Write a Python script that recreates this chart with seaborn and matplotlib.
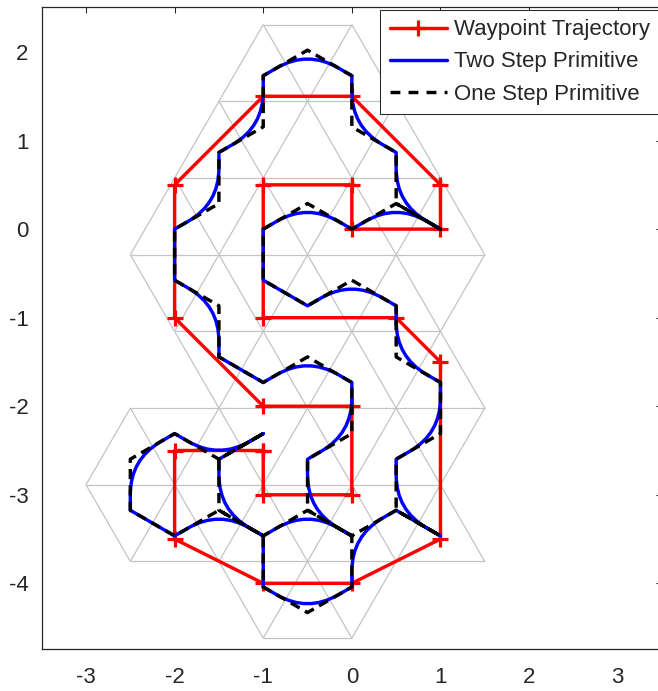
import matplotlib
matplotlib.use("Agg")
import matplotlib.pyplot as plt
import pandas as pd
import seaborn as sns
from matplotlib.path import Path
from matplotlib.patches import PathPatch
from matplotlib.collections import LineCollection
from matplotlib.lines import Line2D

# ---------------- data ----------------
# Waypoint trajectory (closed loop)
way_x = [-1, -2, -2, -1, 0, 1, 1, 0.5, -1, -1, 0, 0, 1, 1, 0, -1, -2, -2, -1, 0, 0, -1, -1]
way_y = [-2.5, -2.5, -3.5, -4, -4, -3.5, -1.5, -1, -1, 0.5, 0.5, 0, 0, 0.5, 1.5, 1.5, 0.5, -1, -2, -2, -3, -3, -2.5]

# One step primitive: vertices on the hexagonal (triangle-centroid) lattice
one_x = [-1, -1.5, -2, -2.5, -2.5, -2, -1.5, -1, -1, -0.5, 0, 0, 0.5, 1, 0.5, 0.5, 1, 1,
         0.5, 0.5, 0, -0.5, -1, -1, -0.5, 0, 0.5, 1, 0.5, 0.5, 0, 0, -0.5, -1, -1, -1.5,
         -1.5, -2, -2, -1.5, -1.5, -1, -0.5, 0, 0, -0.5, -0.5, 0, -0.5, -1, -1.5, -1.5, -1]
one_y = [-2.309, -2.598, -2.309, -2.598, -3.175, -3.464, -3.175, -3.464, -4.041, -4.330,
         -4.041, -3.464, -3.175, -3.464, -3.175, -2.598, -2.309, -1.732, -1.443, -0.866,
         -0.577, -0.866, -0.577, 0.000, 0.289, 0.000, 0.289, 0.000, 0.289, 0.866, 1.155,
         1.732, 2.021, 1.732, 1.155, 0.866, 0.289, 0.000, -0.577, -0.866, -1.443, -1.732,
         -1.443, -1.732, -2.309, -2.598, -3.175, -3.464, -3.175, -3.464, -3.175, -2.598,
         -2.309]

# Two step primitive: path vertices; M = start, L = straight, C = quadratic curve point
two_x = [-1.000,
         -1.154, -1.500, -1.846, -2.000,
         -2.154, -2.500, -2.500, -2.500, -2.000,
         -1.846, -1.500, -1.154, -1.000, -1.000,
         -0.846, -0.500, -0.154, 0.000,
         0.000, 0.000, 0.346, 0.500, 1.000,
         0.846, 0.500, 0.500, 0.500,
         0.654, 1.000, 1.000, 1.000,
         0.846, 0.500, 0.500, 0.500,
         0.346, 0.000, -0.346, -0.500, -1.000,
         -1.000,
         -0.846, -0.500, -0.154, 0.000,
         0.154, 0.500, 0.846, 1.000,
         0.846, 0.500, 0.500, 0.500,
         0.346, 0.000, 0.000, 0.000,
         -0.154, -0.500, -0.846, -1.000,
         -1.000, -1.000, -1.346, -1.500,
         -1.500, -1.500, -1.846, -2.000,
         -2.000,
         -1.846, -1.500, -1.500, -1.500, -1.000,
         -0.846, -0.500, -0.154, 0.000,
         0.000, 0.000, -0.346, -0.500,
         -0.500, -0.500, -0.154, 0.000,
         -0.154, -0.500, -0.846, -1.000,
         -1.154, -1.500, -1.500, -1.500, -1.000]
two_y = [-2.309,
         -2.398, -2.598, -2.398, -2.309,
         -2.398, -2.598, -2.998, -3.175, -3.464,
         -3.375, -3.175, -3.375, -3.464, -4.041,
         -4.130, -4.330, -4.130, -4.041,
         -3.864, -3.464, -3.264, -3.175, -3.464,
         -3.375, -3.175, -2.775, -2.598,
         -2.509, -2.309, -1.909, -1.732,
         -1.643, -1.443, -1.043, -0.866,
         -0.777, -0.577, -0.777, -0.866, -0.577,
         0.000,
         0.089, 0.289, 0.089, 0.000,
         0.089, 0.289, 0.089, 0.000,
         0.089, 0.289, 0.689, 0.866,
         0.955, 1.155, 1.555, 1.732,
         1.821, 2.021, 1.821, 1.732,
         1.555, 1.155, 0.955, 0.866,
         0.689, 0.289, 0.089, 0.000,
         -0.577,
         -0.666, -0.866, -1.266, -1.443, -1.732,
         -1.643, -1.443, -1.643, -1.732,
         -1.909, -2.309, -2.509, -2.598,
         -2.775, -3.175, -3.375, -3.464,
         -3.375, -3.175, -3.375, -3.464,
         -3.375, -3.175, -2.775, -2.598, -2.309]
two_kind = ['M',
            'L', 'C', 'C', 'L',
            'L', 'C', 'C', 'L', 'L',
            'L', 'C', 'C', 'L', 'L',
            'L', 'C', 'C', 'L',
            'L', 'C', 'C', 'L', 'L',
            'L', 'C', 'C', 'L',
            'L', 'C', 'C', 'L',
            'L', 'C', 'C', 'L',
            'L', 'C', 'C', 'L', 'L',
            'L',
            'L', 'C', 'C', 'L',
            'L', 'C', 'C', 'L',
            'L', 'C', 'C', 'L',
            'L', 'C', 'C', 'L',
            'L', 'C', 'C', 'L',
            'L', 'C', 'C', 'L',
            'L', 'C', 'C', 'L',
            'L',
            'L', 'C', 'C', 'L', 'L',
            'L', 'C', 'C', 'L',
            'L', 'C', 'C', 'L',
            'L', 'C', 'C', 'L',
            'L', 'C', 'C', 'L',
            'L', 'C', 'C', 'L', 'L']

# Triangle grid: lattice rows and, per band, apex x of upward / downward triangles
grid_row_y = [-4.619, -3.753, -2.887, -2.021, -1.155, -0.289, 0.577, 1.443, 2.309]
grid_up_apex = [[-0.5], [-2, -1, 0, 1], [-2.5, -1.5, -0.5, 0.5], [-1, 0, 1],
                [-1.5, -0.5, 0.5], [-2, -1, 0, 1], [-1.5, -0.5, 0.5], [-1, 0]]
grid_down_apex = [[-1, 0], [-2.5, -1.5, -0.5, 0.5], [-2, -1, 0, 1], [-1.5, -0.5, 0.5],
                  [-2, -1, 0, 1], [-1.5, -0.5, 0.5], [-1, 0], [-0.5]]

x_ticks = [-3, -2, -1, 0, 1, 2, 3]
y_ticks = [-4, -3, -2, -1, 0, 1, 2]
labels = ["Waypoint Trajectory", "Two Step Primitive", "One Step Primitive"]

# ---------------- style ----------------
sns.set_style("white")
plt.rcParams['font.family'] = ['Liberation Sans', 'DejaVu Sans']
plt.rcParams['axes.unicode_minus'] = False

W, H = 658, 691
fig = plt.figure(figsize=(W / 100, H / 100), dpi=100)
ax = fig.add_axes([41.7 / W, (H - 649.3) / H, (662.0 - 41.7) / W, (649.3 - 7.3) / H])

# grid
edges = set()
for b in range(len(grid_up_apex)):
    yl, yu = grid_row_y[b], grid_row_y[b + 1]
    for x in grid_up_apex[b]:
        tri = [(x, yu), (x - 0.5, yl), (x + 0.5, yl)]
        for i in range(3):
            p, q = tri[i], tri[(i + 1) % 3]
            edges.add(tuple(sorted([(round(p[0], 3), round(p[1], 3)), (round(q[0], 3), round(q[1], 3))])))
    for x in grid_down_apex[b]:
        tri = [(x, yl), (x - 0.5, yu), (x + 0.5, yu)]
        for i in range(3):
            p, q = tri[i], tri[(i + 1) % 3]
            edges.add(tuple(sorted([(round(p[0], 3), round(p[1], 3)), (round(q[0], 3), round(q[1], 3))])))
ax.add_collection(LineCollection(sorted(edges), colors='#c4c4c4', linewidths=0.9, zorder=1))

LW = 2.45
# waypoints
df_way = pd.DataFrame({'x': way_x, 'y': way_y})
sns.lineplot(data=df_way, x='x', y='y', sort=False, estimator=None, ax=ax, legend=False,
             color='red', linewidth=LW, marker='+', markersize=12,
             markeredgewidth=2.3, markeredgecolor='red', zorder=2)

# two step primitive (curved path)
code_map = {'M': Path.MOVETO, 'L': Path.LINETO, 'C': Path.CURVE3}
blue_path = Path(list(zip(two_x, two_y)), [code_map[k] for k in two_kind])
ax.add_patch(PathPatch(blue_path, facecolor='none', edgecolor='blue', linewidth=LW,
                       joinstyle='round', capstyle='round', zorder=3))

# one step primitive
df_one = pd.DataFrame({'x': one_x, 'y': one_y})
sns.lineplot(data=df_one, x='x', y='y', sort=False, estimator=None, ax=ax, legend=False,
             color='black', linewidth=LW, zorder=4)
blk = ax.lines[-1]
blk.set_dashes([3.0, 1.8])
blk.set_dash_capstyle('butt')

ax.set_xlim(-3.5, 3.5)
ax.set_ylim(-4.745, 2.505)
ax.set_xticks(x_ticks)
ax.set_yticks(y_ticks)
ax.set_xticklabels([str(t) for t in x_ticks])
ax.set_yticklabels([str(t) for t in y_ticks])
ax.set_xlabel('')
ax.set_ylabel('')
ax.tick_params(direction='in', length=4.3, width=0.75, top=True, right=True,
               colors='#262626', labelsize=16)
ax.tick_params(axis='x', pad=13)
ax.tick_params(axis='y', pad=9.5)
for s in ax.spines.values():
    s.set_color('#262626')
    s.set_linewidth(0.9)

h_red = Line2D([], [], color='red', lw=LW, marker='+', markersize=12, markeredgewidth=2.3)
h_blue = Line2D([], [], color='blue', lw=LW)
h_blk = Line2D([], [], color='black', lw=LW, dashes=[2.9, 2.4])
leg = ax.legend([h_red, h_blue, h_blk], labels, loc='upper right', fontsize=16,
                frameon=True, fancybox=False, framealpha=1, edgecolor='#262626',
                handlelength=2.6, handletextpad=0.3, borderpad=0.42,
                labelspacing=0.5, borderaxespad=0.12)
leg.get_frame().set_linewidth(0.75)

fig.savefig('out.png', dpi=100)
